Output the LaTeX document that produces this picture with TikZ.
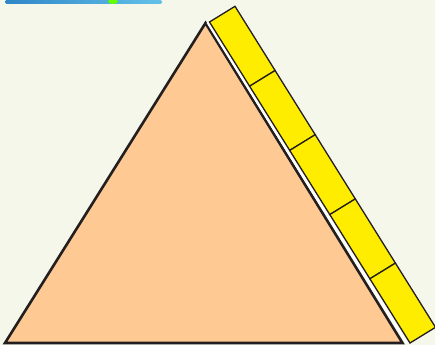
\documentclass[tikz,border=0pt]{standalone}
\usetikzlibrary{calc}
\definecolor{fondo}{HTML}{F5F7EA}
\definecolor{melocoton}{HTML}{FFC993}
\definecolor{amarillo}{HTML}{FFED00}
\definecolor{contorno}{HTML}{231F20}
\definecolor{azulbarra}{HTML}{2F86C8}
\definecolor{celeste}{HTML}{3FB4E8}
\tikzset{
  triangulo/.style={draw=contorno, fill=melocoton, line width=2.6pt, line join=miter},
  tira/.style={draw=contorno, fill=amarillo, line width=1.3pt, line join=miter},
  ranura/.style={white, line width=2.4pt}
}
\begin{document}
\begin{tikzpicture}[x=1pt, y=-1pt]
  \fill[fondo] (0,0) rectangle (435,345);
  \useasboundingbox (0,0) rectangle (435,345);
  % barra azul cortada arriba
  \shade[left color=azulbarra, right color=celeste!80!fondo, rounded corners=1.5pt] (5,0) rectangle (162,4);
  \fill[green!60!yellow] (113,1.5) ellipse (5 and 2.5);
  % triangulo
  \coordinate (A) at (205.5,23);
  \coordinate (B) at (5,343);
  \coordinate (C) at (402.5,343);
  \draw[triangulo] (A) -- (B) -- (C) -- cycle;
  % tira de cinco piezas
  \coordinate (s0) at (209.5,22);
  \coordinate (s1) at (410,343);
  \coordinate (w) at (25.5,-15.7);
  \draw[ranura] ($(A)!0.55!(s0)$) -- ($(C)!0.55!(s1)$);
  \foreach \i [evaluate=\i as \j using \i+1] in {0,...,4}
    \draw[tira] ($(s0)!\i/5!(s1)$) -- ($(s0)!\j/5!(s1)$)
      -- ($(s0)!\j/5!(s1)+(w)$) -- ($(s0)!\i/5!(s1)+(w)$) -- cycle;
\end{tikzpicture}
\end{document}
